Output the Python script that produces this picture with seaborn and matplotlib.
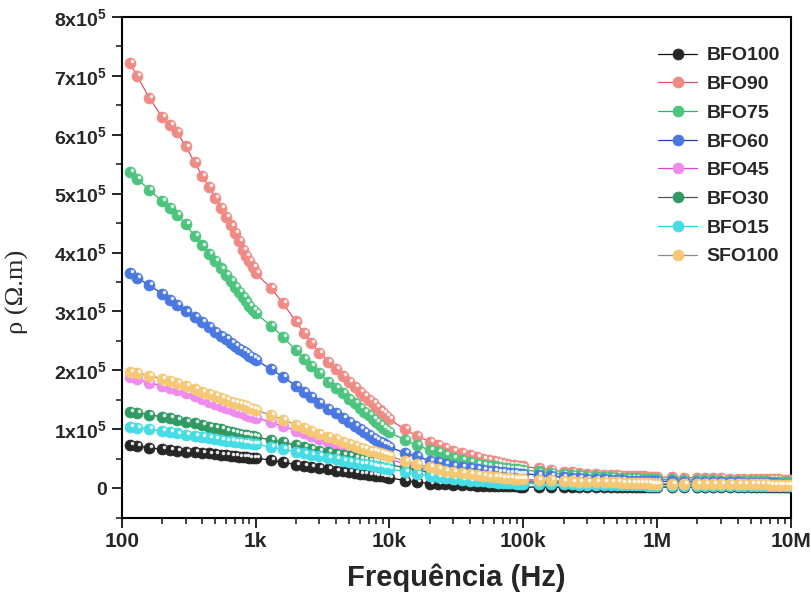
import matplotlib
matplotlib.use('Agg')
import matplotlib.pyplot as plt
from matplotlib import transforms
from matplotlib.ticker import FixedLocator, LogLocator, NullFormatter
import seaborn as sns
import numpy as np

# frequencies (Hz) - sweep is linear inside each decade
freq = [115, 130, 160, 200, 230, 260, 300, 350, 400, 450, 500, 550, 600, 650, 700, 750, 800, 850, 900, 950,
        1e3, 1.3e3, 1.6e3, 2e3, 2.3e3, 2.6e3, 3e3, 3.5e3, 4e3, 4.5e3, 5e3, 5.5e3, 6e3, 6.5e3, 7e3, 7.5e3, 8e3, 8.5e3, 9e3, 9.5e3,
        1e4, 1.3e4, 1.6e4, 2e4, 2.3e4, 2.6e4, 3e4, 3.5e4, 4e4, 4.5e4, 5e4, 5.5e4, 6e4, 6.5e4, 7e4, 7.5e4, 8e4, 8.5e4, 9e4, 9.5e4,
        1e5, 1.3e5, 1.6e5, 2e5, 2.3e5, 2.6e5, 3e5, 3.5e5, 4e5, 4.5e5, 5e5, 5.5e5, 6e5, 6.5e5, 7e5, 7.5e5, 8e5, 8.5e5, 9e5, 9.5e5,
        1e6, 1.3e6, 1.6e6, 2e6, 2.3e6, 2.6e6, 3e6, 3.5e6, 4e6, 4.5e6, 5e6, 5.5e6, 6e6, 6.5e6, 7e6, 7.5e6, 8e6, 8.5e6, 9e6, 9.5e6,
        1e7]

# resistivity, in units of 1e5 ohm.m
bfo100 = [0.73, 0.71, 0.69, 0.66, 0.65, 0.64, 0.62, 0.61, 0.60, 0.59, 0.58, 0.57, 0.56, 0.55, 0.54, 0.535, 0.53, 0.525, 0.52, 0.515,
          0.51, 0.48, 0.44, 0.40, 0.38, 0.36, 0.34, 0.32, 0.30, 0.285, 0.27, 0.26, 0.25, 0.24, 0.23, 0.22, 0.21, 0.205, 0.20, 0.19,
          0.18, 0.13, 0.105, 0.08, 0.075, 0.07, 0.06, 0.055, 0.05, 0.045, 0.04, 0.04, 0.04, 0.035, 0.03, 0.03, 0.03, 0.03, 0.03, 0.025,
          0.02, 0.02, 0.02, 0.02, 0.02, 0.02, 0.02, 0.02, 0.02, 0.02, 0.02, 0.02, 0.02, 0.02, 0.02, 0.02, 0.02, 0.02, 0.02, 0.02,
          0.02, 0.02, 0.02, 0.02, 0.02, 0.02, 0.02, 0.02, 0.02, 0.02, 0.02, 0.02, 0.02, 0.02, 0.02, 0.02, 0.02, 0.02, 0.02, 0.02,
          0.02]
bfo90 = [7.21, 7.00, 6.63, 6.30, 6.16, 6.04, 5.80, 5.53, 5.30, 5.11, 4.93, 4.76, 4.60, 4.46, 4.33, 4.19, 4.05, 3.95, 3.85, 3.75,
         3.65, 3.40, 3.14, 2.83, 2.63, 2.47, 2.30, 2.15, 2.02, 1.91, 1.80, 1.72, 1.64, 1.57, 1.50, 1.44, 1.38, 1.32, 1.27, 1.22,
         1.17, 1.00, 0.89, 0.79, 0.74, 0.69, 0.64, 0.60, 0.56, 0.53, 0.50, 0.48, 0.46, 0.44, 0.43, 0.41, 0.40, 0.39, 0.38, 0.375,
         0.37, 0.34, 0.31, 0.28, 0.27, 0.26, 0.25, 0.24, 0.23, 0.225, 0.22, 0.215, 0.21, 0.205, 0.20, 0.20, 0.20, 0.195, 0.19, 0.19,
         0.19, 0.185, 0.18, 0.18, 0.175, 0.17, 0.17, 0.165, 0.16, 0.16, 0.16, 0.155, 0.15, 0.15, 0.15, 0.15, 0.15, 0.145, 0.14, 0.14,
         0.14]
bfo75 = [5.37, 5.25, 5.07, 4.87, 4.75, 4.64, 4.48, 4.28, 4.12, 3.98, 3.85, 3.73, 3.62, 3.52, 3.42, 3.33, 3.25, 3.17, 3.10, 3.03,
         2.97, 2.76, 2.57, 2.34, 2.20, 2.08, 1.95, 1.81, 1.70, 1.61, 1.52, 1.44, 1.36, 1.30, 1.24, 1.18, 1.13, 1.08, 1.03, 0.99,
         0.95, 0.82, 0.73, 0.65, 0.61, 0.57, 0.52, 0.48, 0.45, 0.42, 0.40, 0.385, 0.37, 0.36, 0.35, 0.34, 0.33, 0.325, 0.32, 0.315,
         0.31, 0.285, 0.265, 0.24, 0.23, 0.22, 0.21, 0.20, 0.19, 0.185, 0.18, 0.175, 0.17, 0.17, 0.17, 0.165, 0.16, 0.16, 0.16, 0.155,
         0.15, 0.15, 0.145, 0.14, 0.14, 0.135, 0.13, 0.13, 0.13, 0.125, 0.12, 0.12, 0.12, 0.115, 0.11, 0.11, 0.11, 0.11, 0.11, 0.105,
         0.10]
bfo60 = [3.65, 3.57, 3.45, 3.30, 3.20, 3.11, 3.00, 2.90, 2.82, 2.74, 2.66, 2.59, 2.53, 2.47, 2.42, 2.37, 2.33, 2.29, 2.25, 2.21,
         2.18, 2.02, 1.89, 1.74, 1.64, 1.55, 1.45, 1.35, 1.27, 1.19, 1.12, 1.06, 1.00, 0.95, 0.90, 0.86, 0.82, 0.79, 0.76, 0.73,
         0.70, 0.60, 0.54, 0.47, 0.44, 0.41, 0.38, 0.36, 0.34, 0.325, 0.31, 0.30, 0.29, 0.28, 0.27, 0.265, 0.26, 0.255, 0.25, 0.25,
         0.25, 0.225, 0.205, 0.19, 0.18, 0.17, 0.16, 0.155, 0.15, 0.145, 0.14, 0.135, 0.13, 0.13, 0.13, 0.125, 0.12, 0.12, 0.12, 0.12,
         0.12, 0.115, 0.11, 0.11, 0.105, 0.10, 0.10, 0.10, 0.10, 0.095, 0.09, 0.09, 0.09, 0.09, 0.085, 0.085, 0.08, 0.08, 0.08, 0.08,
         0.08]
bfo45 = [1.88, 1.85, 1.79, 1.74, 1.70, 1.66, 1.61, 1.56, 1.51, 1.47, 1.43, 1.40, 1.37, 1.34, 1.31, 1.29, 1.27, 1.25, 1.23, 1.21,
         1.20, 1.12, 1.05, 0.98, 0.93, 0.89, 0.84, 0.79, 0.75, 0.71, 0.68, 0.65, 0.63, 0.60, 0.58, 0.565, 0.55, 0.535, 0.52, 0.505,
         0.49, 0.42, 0.37, 0.32, 0.295, 0.27, 0.25, 0.23, 0.21, 0.20, 0.19, 0.18, 0.17, 0.165, 0.16, 0.155, 0.15, 0.145, 0.14, 0.135,
         0.13, 0.12, 0.115, 0.11, 0.105, 0.10, 0.10, 0.095, 0.09, 0.09, 0.09, 0.085, 0.08, 0.08, 0.08, 0.08, 0.08, 0.08, 0.08, 0.075,
         0.07, 0.07, 0.07, 0.07, 0.07, 0.065, 0.065, 0.06, 0.06, 0.06, 0.06, 0.06, 0.06, 0.06, 0.06, 0.06, 0.055, 0.055, 0.05, 0.05,
         0.05]
bfo30 = [1.29, 1.28, 1.25, 1.21, 1.19, 1.16, 1.13, 1.10, 1.07, 1.04, 1.02, 1.00, 0.98, 0.96, 0.94, 0.925, 0.91, 0.90, 0.89, 0.88,
         0.87, 0.82, 0.78, 0.73, 0.70, 0.67, 0.64, 0.61, 0.58, 0.56, 0.54, 0.52, 0.50, 0.485, 0.47, 0.46, 0.45, 0.44, 0.43, 0.415,
         0.40, 0.35, 0.31, 0.27, 0.25, 0.23, 0.21, 0.195, 0.18, 0.17, 0.16, 0.155, 0.15, 0.145, 0.14, 0.135, 0.13, 0.125, 0.12, 0.115,
         0.11, 0.10, 0.10, 0.09, 0.09, 0.09, 0.08, 0.08, 0.08, 0.08, 0.08, 0.075, 0.07, 0.07, 0.07, 0.07, 0.07, 0.07, 0.07, 0.07,
         0.07, 0.065, 0.06, 0.06, 0.06, 0.06, 0.06, 0.06, 0.06, 0.055, 0.05, 0.05, 0.05, 0.05, 0.05, 0.05, 0.05, 0.05, 0.05, 0.05,
         0.05]
bfo15 = [1.04, 1.03, 1.00, 0.97, 0.95, 0.93, 0.91, 0.89, 0.87, 0.855, 0.84, 0.825, 0.81, 0.80, 0.79, 0.78, 0.77, 0.765, 0.76, 0.755,
         0.75, 0.70, 0.66, 0.62, 0.59, 0.565, 0.54, 0.51, 0.49, 0.47, 0.45, 0.435, 0.42, 0.405, 0.39, 0.38, 0.37, 0.36, 0.35, 0.34,
         0.33, 0.28, 0.24, 0.21, 0.19, 0.175, 0.16, 0.145, 0.13, 0.125, 0.12, 0.11, 0.10, 0.095, 0.09, 0.09, 0.09, 0.085, 0.08, 0.08,
         0.08, 0.075, 0.07, 0.07, 0.065, 0.06, 0.06, 0.06, 0.055, 0.05, 0.05, 0.05, 0.05, 0.05, 0.05, 0.05, 0.05, 0.045, 0.04, 0.04,
         0.04, 0.04, 0.04, 0.04, 0.04, 0.04, 0.04, 0.04, 0.04, 0.04, 0.04, 0.04, 0.04, 0.04, 0.04, 0.04, 0.04, 0.04, 0.04, 0.04,
         0.04]
sfo100 = [1.97, 1.95, 1.91, 1.86, 1.82, 1.79, 1.74, 1.69, 1.64, 1.60, 1.56, 1.53, 1.50, 1.47, 1.45, 1.43, 1.41, 1.39, 1.37, 1.35,
          1.33, 1.24, 1.16, 1.08, 1.03, 0.98, 0.92, 0.87, 0.83, 0.79, 0.75, 0.72, 0.69, 0.665, 0.64, 0.625, 0.61, 0.595, 0.58, 0.565,
          0.55, 0.46, 0.41, 0.36, 0.33, 0.30, 0.28, 0.26, 0.24, 0.225, 0.21, 0.20, 0.19, 0.185, 0.18, 0.175, 0.17, 0.165, 0.16, 0.155,
          0.15, 0.14, 0.135, 0.12, 0.115, 0.11, 0.11, 0.105, 0.10, 0.10, 0.10, 0.095, 0.09, 0.09, 0.09, 0.09, 0.09, 0.085, 0.08, 0.08,
          0.08, 0.08, 0.08, 0.07, 0.07, 0.07, 0.07, 0.07, 0.07, 0.07, 0.07, 0.07, 0.07, 0.065, 0.06, 0.06, 0.06, 0.06, 0.06, 0.06,
          0.06]

names = ['BFO100', 'BFO90', 'BFO75', 'BFO60', 'BFO45', 'BFO30', 'BFO15', 'SFO100']
series = [bfo100, bfo90, bfo75, bfo60, bfo45, bfo30, bfo15, sfo100]
# marker face colours and connecting line colours
faces = ['#262626', '#f08a84', '#4cc47e', '#4a78e0', '#ee8cee', '#2f9a63', '#46dce6', '#f6c874']
lines = ['#111111', '#e0506a', '#2fb56a', '#1d3fc0', '#e040e0', '#555555', '#2ad0e8', '#8a8a8a']

x_ticks = [1e2, 1e3, 1e4, 1e5, 1e6, 1e7]
x_labels = ['100', '1k', '10k', '100k', '1M', '10M']
y_ticks = [0, 1e5, 2e5, 3e5, 4e5, 5e5, 6e5, 7e5, 8e5]
y_labels = ['0'] + ['%dx10$^5$' % i for i in range(1, 9)]

sns.set_style('ticks')
plt.rcParams['font.family'] = ['Liberation Sans', 'DejaVu Sans']
plt.rcParams['mathtext.fontset'] = 'custom'
plt.rcParams['mathtext.rm'] = 'Liberation Sans:bold'
plt.rcParams['mathtext.it'] = 'Liberation Sans:bold'
plt.rcParams['mathtext.bf'] = 'Liberation Sans:bold'

fig = plt.figure(figsize=(8.12, 6.02), dpi=100)
ax = fig.add_axes([0.150, 0.140, 0.824, 0.832])

# little white shine on each ball
shine = transforms.offset_copy(ax.transData, fig=fig, x=1.4, y=1.4, units='points')

for i in range(len(names)):
    y = np.array(series[i]) * 1e5
    sns.lineplot(x=freq, y=y, ax=ax, color=lines[i], linewidth=0.9, sort=False,
                 marker='o', markersize=7.8, markerfacecolor=faces[i],
                 markeredgecolor=faces[i], markeredgewidth=0.6, label=names[i], zorder=2 + i)
    ax.plot(freq, y, linestyle='none', marker='o', markersize=1.6, color='white',
            alpha=0.8, transform=shine, zorder=2 + i, label='_nolegend_')

ax.set_xscale('log')
ax.set_xlim(100, 1e7)
ax.set_ylim(-0.5e5, 8e5)

ax.xaxis.set_major_locator(FixedLocator(x_ticks))
ax.set_xticklabels(x_labels)
ax.xaxis.set_minor_locator(LogLocator(base=10, subs=np.arange(2, 10), numticks=20))
ax.xaxis.set_minor_formatter(NullFormatter())
ax.yaxis.set_major_locator(FixedLocator(y_ticks))
ax.set_yticklabels(y_labels)
ax.yaxis.set_minor_locator(FixedLocator([-0.5e5, 0.5e5, 1.5e5, 2.5e5, 3.5e5, 4.5e5, 5.5e5, 6.5e5, 7.5e5]))

ax.tick_params(which='major', direction='out', length=7, width=1.4, labelsize=14)
ax.tick_params(axis='x', which='major', labelsize=15)
ax.tick_params(which='minor', direction='out', length=4, width=1.2)
for lab in ax.get_xticklabels() + ax.get_yticklabels():
    lab.set_fontweight('bold')
for s in ax.spines.values():
    s.set_linewidth(1.5)
    s.set_color('black')

ax.set_xlabel('Frequência (Hz)', fontsize=21, fontweight='bold', labelpad=9)
ax.set_ylabel('ρ (Ω.m)', fontsize=19, family=['Liberation Serif', 'DejaVu Serif'])
ax.yaxis.set_label_coords(-0.138, 0.45)

handles, labels = ax.get_legend_handles_labels()
ax.legend(handles, labels, loc='upper right', bbox_to_anchor=(1.01, 0.975), frameon=False,
          prop={'weight': 'bold', 'size': 14}, handlelength=2.0, handletextpad=0.5,
          labelspacing=0.57)

fig.savefig('out.png', dpi=100)
